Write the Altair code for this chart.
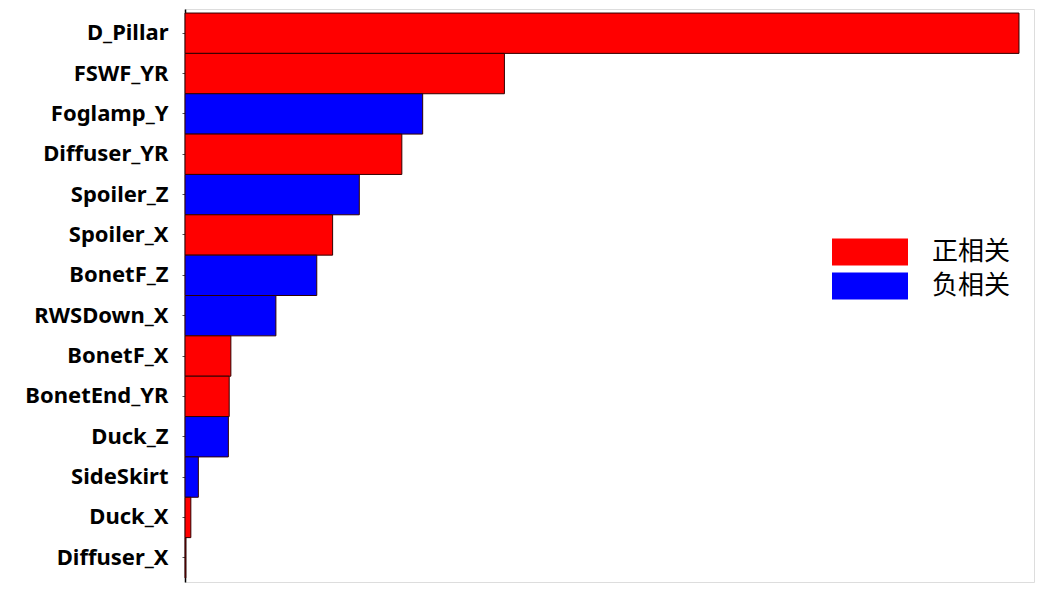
import altair as alt
import pandas as pd

features = ["D_Pillar", "FSWF_YR", "Foglamp_Y", "Diffuser_YR", "Spoiler_Z", "Spoiler_X",
            "BonetF_Z", "RWSDown_X", "BonetF_X", "BonetEnd_YR", "Duck_Z", "SideSkirt",
            "Duck_X", "Diffuser_X"]
importance = [1.000, 0.383, 0.285, 0.260, 0.209, 0.177, 0.158, 0.109, 0.055, 0.053,
              0.052, 0.016, 0.007, 0.001]
correlation = ["正相关", "正相关", "负相关", "正相关", "负相关", "正相关", "负相关", "负相关",
               "正相关", "正相关", "负相关", "负相关", "正相关", "正相关"]

df = pd.DataFrame({"feature": features, "importance": importance, "corr": correlation})

bars = alt.Chart(df).mark_bar(stroke="#300000", strokeWidth=1).encode(
    y=alt.Y("feature:N", sort=features,
            scale=alt.Scale(paddingInner=0, paddingOuter=0.1),
            axis=alt.Axis(title=None, labelFont="Noto Sans", labelFontWeight="bold",
                          labelFontSize=22, labelColor="black", labelPadding=14,
                          tickSize=3, tickColor="#555", domainColor="black",
                          domainWidth=1.5, labelLimit=300)),
    x=alt.X("importance:Q", scale=alt.Scale(domain=[0, 1.018], nice=False, zero=True),
            axis=None),
    color=alt.Color("corr:N", scale=alt.Scale(domain=["正相关", "负相关"], range=["#ff0000", "#0000ff"]),
                    legend=alt.Legend(title=None, orient="none", legendX=666, legendY=224,
                                      symbolType="M-2,-0.71L2,-0.71L2,0.71L-2,0.71Z",
                                      symbolSize=1444, symbolStrokeWidth=0,
                                      labelFont="Noto Sans CJK SC", labelFontSize=26,
                                      labelColor="black", labelOffset=43,
                                      rowPadding=1, symbolOpacity=1))
)

chart = bars.properties(width=849, height=573,
                        padding={"left": 16, "top": 1, "right": 5, "bottom": 5}).configure_view(
    stroke="#d8d8d8", strokeWidth=1.5
).configure(background="white")

chart.save("out.html", embed_options={"renderer": "svg", "actions": False})
